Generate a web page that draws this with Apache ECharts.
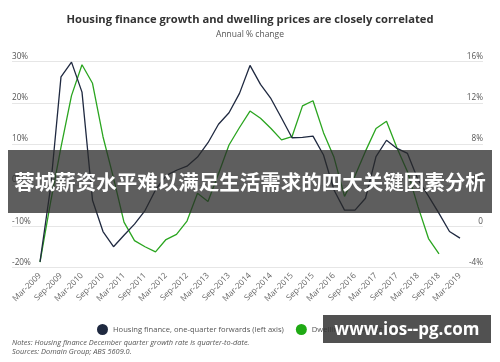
<!DOCTYPE html>
<html>
<head>
<meta charset="utf-8">
<script src="https://cdn.jsdelivr.net/npm/echarts@6/dist/echarts.min.js"></script>
<style>html,body{margin:0;padding:0;background:#fff;}#c{width:500px;height:362px;}</style>
</head>
<body>
<div id="c"></div>
<script>
var categories = ["Mar-2009","Jun-2009","Sep-2009","Dec-2009","Mar-2010","Jun-2010","Sep-2010","Dec-2010",
"Mar-2011","Jun-2011","Sep-2011","Dec-2011","Mar-2012","Jun-2012","Sep-2012","Dec-2012",
"Mar-2013","Jun-2013","Sep-2013","Dec-2013","Mar-2014","Jun-2014","Sep-2014","Dec-2014",
"Mar-2015","Jun-2015","Sep-2015","Dec-2015","Mar-2016","Jun-2016","Sep-2016","Dec-2016",
"Mar-2017","Jun-2017","Sep-2017","Dec-2017","Mar-2018","Jun-2018","Sep-2018","Dec-2018","Mar-2019"];
var housingFinance = [-18.7,-0.7,26.3,29.9,22.6,-3.7,-11.3,-15,-12.2,-9.5,-6.2,-1.2,2.3,3.6,4.6,6.8,
10.3,14.8,17.6,22.3,29.1,24.5,21,16.3,11.5,11.6,11.9,7.3,-1.2,-6.1,-6.1,-3.2,6.9,10.9,8.9,7.7,1.3,-2.7,-6.9,-11.3,-12.9];
var dwellingPrices = [-3.5,2.3,7.7,12.7,15.7,13.9,8.7,4.7,0.4,-1.4,-2.0,-2.5,-1.3,-0.8,0.5,3.2,
2.4,5.1,7.9,9.6,11.2,10.5,9.5,8.4,8.7,11.7,12.2,9.1,6.7,2.9,4.9,7.3,9.5,10.2,7.6,5.3,1.9,-1.2,-2.7,null,null];
var leftTicks = {min:-20, max:30, interval:10};
var rightTicks = {min:-4, max:16, interval:4};

var chart = echarts.init(document.getElementById('c'), null, {renderer:'canvas'});
var font = "'Segoe UI','Open Sans','Noto Sans',sans-serif";
var option = {
  backgroundColor:'#fff',
  animation:false,
  title:{
    text:'Housing finance growth and dwelling prices are closely correlated',
    subtext:'Annual % change',
    left:'center', top:9, itemGap:5,
    textStyle:{fontFamily:font, fontSize:11.2, fontWeight:'bold', color:'#333'},
    subtextStyle:{fontFamily:font, fontSize:8.5, color:'#555'}
  },
  legend:{
    left:92, top:319, icon:'circle', itemWidth:11, itemHeight:11, itemGap:12,
    textStyle:{fontFamily:font, fontSize:7.6, color:'#555'},
    data:['Housing finance, one-quarter forwards (left axis)','Dwelling prices (right axis)']
  },
  grid:[
    {left:40, right:40, top:61.7, height:205.6},
    {left:12, right:17, top:61.7, height:205.6}
  ],
  xAxis:[
    {type:'category', gridIndex:0, data:categories, boundaryGap:false,
     axisLine:{show:false}, axisTick:{show:false},
     axisLabel:{interval:1, rotate:45, margin:7, fontFamily:font, fontSize:8.2, color:'#666'}},
    {type:'value', gridIndex:1, show:false, min:0, max:1}
  ],
  yAxis:[
    {type:'value', gridIndex:0, min:leftTicks.min, max:leftTicks.max, interval:leftTicks.interval, show:false},
    {type:'value', gridIndex:0, min:rightTicks.min, max:rightTicks.max, interval:rightTicks.interval, show:false},
    {type:'value', gridIndex:1, position:'left', min:leftTicks.min, max:leftTicks.max, interval:leftTicks.interval,
     axisLine:{show:false}, axisTick:{show:false},
     splitLine:{show:true, lineStyle:{color:'#e6e6e6', width:1}},
     axisLabel:{inside:true, margin:0, align:'left', verticalAlign:'bottom', padding:[0,0,1,0],
       fontFamily:font, fontSize:8.2, color:'#555', formatter:function(v){return v+'%';}}},
    {type:'value', gridIndex:1, position:'right', min:rightTicks.min, max:rightTicks.max, interval:rightTicks.interval,
     axisLine:{show:false}, axisTick:{show:false}, splitLine:{show:false},
     axisLabel:{inside:true, margin:0, align:'right', verticalAlign:'bottom', padding:[0,0,1,0],
       fontFamily:font, fontSize:8.2, color:'#555', formatter:function(v){return v===0?'0':v+'%';}}}
  ],
  series:[
    {name:'Housing finance, one-quarter forwards (left axis)', type:'line', xAxisIndex:0, yAxisIndex:0,
     data:housingFinance, symbol:'none', lineStyle:{color:'#1f2940', width:1.3}, itemStyle:{color:'#1f2940'}, z:3},
    {name:'Dwelling prices (right axis)', type:'line', xAxisIndex:0, yAxisIndex:1,
     data:dwellingPrices, symbol:'none', lineStyle:{color:'#2aa51f', width:1.3}, itemStyle:{color:'#1faa14'}, z:2}
  ],
  graphic:[
    {type:'text', left:12, top:338, style:{text:'Notes: Housing finance December quarter growth rate is quarter-to-date.\nSources: Domain Group; ABS 5609.0.',
      font:'italic 7.4px '+font, fill:'#555', lineHeight:9.5}},
    {type:'rect', shape:{x:8, y:150, width:484, height:63}, style:{fill:'rgba(40,40,40,0.75)'}, z:100},
    {type:'text', x:250, y:182, style:{text:'蓉城薪资水平难以满足生活需求的四大关键因素分析', align:'center', verticalAlign:'middle',
      font:"bold 20.5px 'Noto Sans CJK SC',sans-serif", fill:'#fff'}, z:101},
    {type:'rect', shape:{x:323, y:315, width:168, height:28}, style:{fill:'rgba(50,50,50,0.85)'}, z:100},
    {type:'text', x:407, y:330, style:{text:'www.ios--pg.com', align:'center', verticalAlign:'middle',
      font:"bold 17px 'Open Sans','Noto Sans',sans-serif", fill:'#fff'}, z:101}
  ]
};
chart.setOption(option);
</script>
</body>
</html>
